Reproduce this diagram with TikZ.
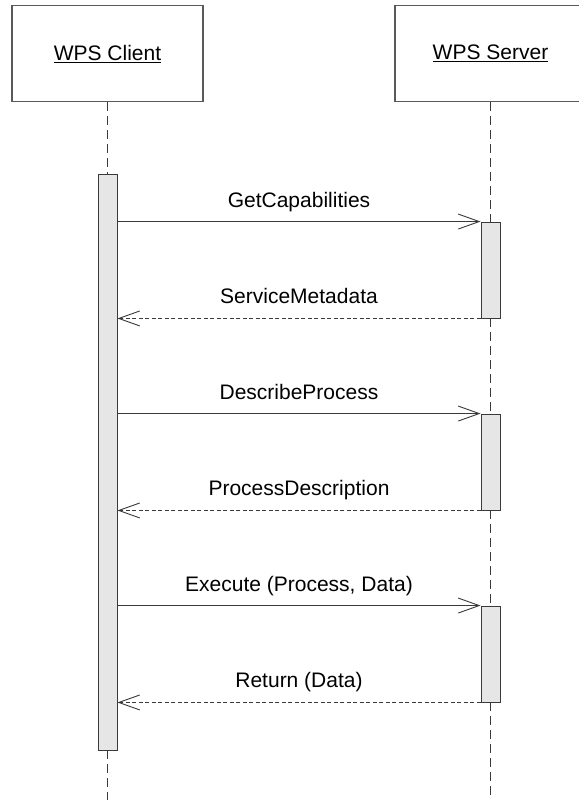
\documentclass[tikz,border=0pt]{standalone}
\usepackage{fontspec}
\setmainfont{Liberation Sans}
\usetikzlibrary{arrows.meta}
\definecolor{linec}{HTML}{3A3A3A}
\definecolor{boxc}{HTML}{5A5A5A}
\definecolor{barfill}{HTML}{E6E6E6}
\begin{document}
\begin{tikzpicture}[x=1pt,y=-1pt,
  every node/.style={font=\fontsize{21}{25}\selectfont, inner sep=0pt},
  actor/.style={draw=boxc, line width=1.2pt, fill=white, minimum width=191pt, minimum height=96pt},
  actbar/.style={draw=linec, line width=0.9pt, fill=barfill, minimum width=19pt},
  lifeline/.style={draw=linec, line width=0.9pt, dash pattern=on 9pt off 5pt},
  call/.style={draw=linec, line width=0.9pt, -{Straight Barb[length=21pt,width=15pt,line width=0.9pt]}},
  reply/.style={draw=linec, line width=0.9pt, dash pattern=on 4pt off 2.5pt, -{Straight Barb[length=21pt,width=15pt,line width=0.9pt]}},
  msg/.style={anchor=base}]
\useasboundingbox (0,0) rectangle (578,800);
\fill[white] (0,0) rectangle (578,800);
% actors
\node[actor] (client) at (107.5,53.7) {\underline{WPS Client}};
\node[actor] (server) at (490.5,53.7) {\underline{WPS Server}};
% activation bars
\node[actbar, minimum height=576pt] (cb) at (107.5,462) {};
\node[actbar, minimum height=96pt] (sb1) at (490.5,270) {};
\node[actbar, minimum height=96pt] (sb2) at (490.5,462) {};
\node[actbar, minimum height=96pt] (sb3) at (490.5,654) {};
\coordinate (cend) at (107.5,800);
\coordinate (send) at (490.5,800);
% lifelines
\draw[lifeline] (client.south) -- (cb.north);
\draw[lifeline] (cb.south) -- (cend);
\draw[lifeline] (server.south) -- (sb1.north);
\draw[lifeline] (sb1.south) -- (sb2.north);
\draw[lifeline] (sb2.south) -- (sb3.north);
\draw[lifeline] (sb3.south) -- (send);
% redraw bars on top
\node[actbar, minimum height=576pt] at (107.5,462) {};
% messages
\draw[call] (cb.east |- sb1.north west) -- (sb1.north west);
\draw[reply] (sb1.south west) -- (cb.east |- sb1.south west);
\draw[call] (cb.east |- sb2.north west) -- (sb2.north west);
\draw[reply] (sb2.south west) -- (cb.east |- sb2.south west);
\draw[call] (cb.east |- sb3.north west) -- (sb3.north west);
\draw[reply] (sb3.south west) -- (cb.east |- sb3.south west);
% labels
\node[msg] (m1) at (299,207) {GetCapabilities};
\node[msg] (m2) at (299,303) {ServiceMetadata};
\node[msg] (m3) at (299,399) {DescribeProcess};
\node[msg] (m4) at (299,495) {ProcessDescription};
\node[msg] (m5) at (299,591) {Execute (Process, Data)};
\node[msg] (m6) at (299,687) {Return (Data)};
\end{tikzpicture}
\end{document}
